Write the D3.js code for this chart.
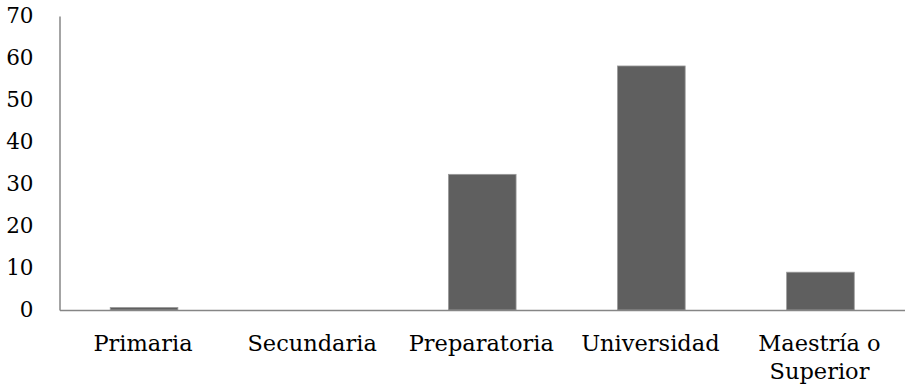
<!DOCTYPE html>
<html>
<head>
<meta charset="utf-8">
<script src="https://cdn.jsdelivr.net/npm/d3@7/dist/d3.min.js"></script>
<style>
  html, body { margin: 0; padding: 0; background: #fff; }
  svg { display: block; }
  text { font-family: "DejaVu Serif", serif; fill: #000; }
</style>
</head>
<body>
<svg id="chart" width="905" height="390"></svg>
<script>
// Nivel de estudios (porcentaje)
const categories = ["Primaria", "Secundaria", "Preparatoria", "Universidad", "Maestría o Superior"];
const labelLines = [["Primaria"], ["Secundaria"], ["Preparatoria"], ["Universidad"], ["Maestría o", "Superior"]];
const values = [0.6, 0, 32.3, 58.1, 9.0];
const yTicks = [0, 10, 20, 30, 40, 50, 60, 70];

const svg = d3.select("#chart");
const plot = { left: 59.5, right: 905, top: 16, bottom: 310 };

const x = d3.scaleBand()
  .domain(categories)
  .range([plot.left, plot.right])
  .paddingInner(0.6)
  .paddingOuter(0.3);

const y = d3.scaleLinear()
  .domain([0, 70])
  .range([plot.bottom, plot.top]);

// Barras
svg.append("g")
  .selectAll("rect")
  .data(categories)
  .join("rect")
  .attr("x", d => x(d))
  .attr("y", (d, i) => y(values[i]))
  .attr("width", x.bandwidth())
  .attr("height", (d, i) => y(0) - y(values[i]))
  .attr("fill", "#5f5f5f")
  .attr("stroke", "#9a9a9a")
  .attr("stroke-width", 0.8);

// Eje Y
const yAxis = svg.append("g")
  .attr("transform", `translate(${plot.left},0)`)
  .call(d3.axisLeft(y).tickValues(yTicks).tickSize(0).tickPadding(26).tickFormat(d3.format("d")));
yAxis.select(".domain").attr("stroke", "#868686").attr("stroke-width", 1.5);
yAxis.selectAll("text").attr("font-size", 21.5).attr("font-family", "DejaVu Serif").attr("fill", "#000");

// Eje X
const xAxis = svg.append("g")
  .attr("transform", `translate(0,${plot.bottom})`)
  .call(d3.axisBottom(x).tickSize(0).tickFormat(""));
xAxis.select(".domain").attr("stroke", "#868686").attr("stroke-width", 1.5);

xAxis.selectAll(".tick")
  .each(function(d, i) {
    const t = d3.select(this).append("text")
      .attr("text-anchor", "middle")
      .attr("font-size", 22.5)
      .attr("fill", "#000");
    labelLines[i].forEach((line, j) => {
      t.append("tspan").attr("x", -1).attr("y", 40.5 + j * 28).text(line);
    });
  });
</script>
</body>
</html>
